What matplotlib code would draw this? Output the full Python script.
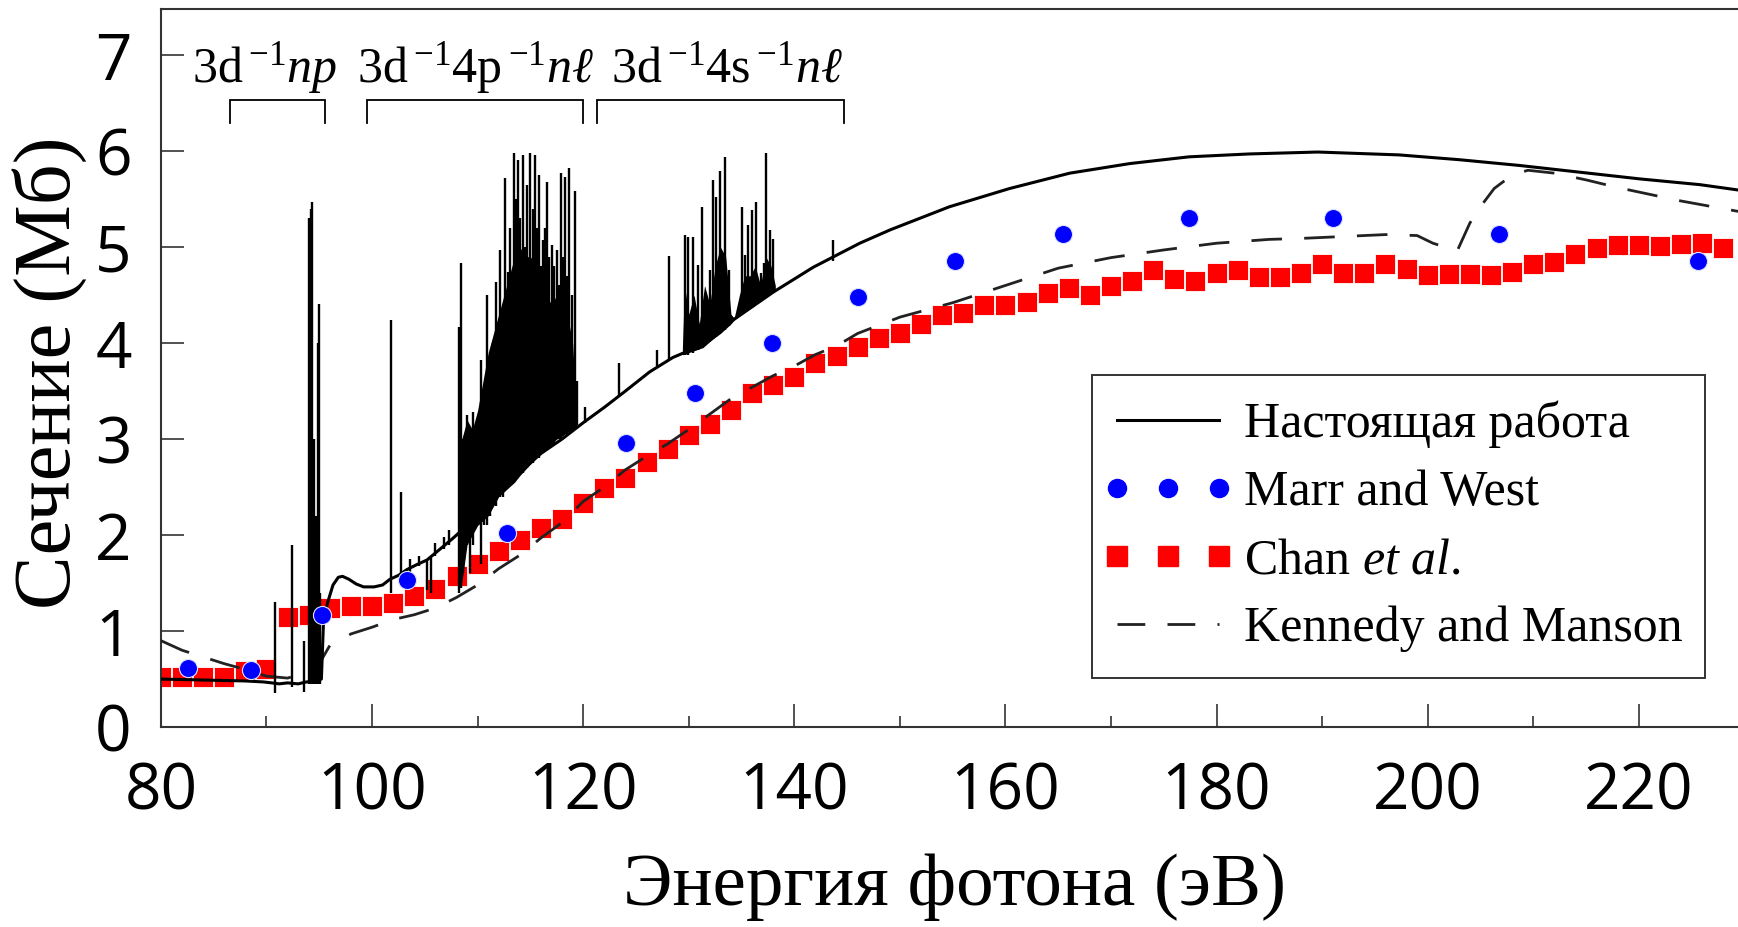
import numpy as np
import matplotlib
matplotlib.use("Agg")
import matplotlib.pyplot as plt
from matplotlib.lines import Line2D
from matplotlib.patches import Rectangle
from matplotlib.legend_handler import HandlerLine2D
from matplotlib.ticker import MultipleLocator

SERIF = 'Liberation Serif'
plt.rcParams['font.family'] = [SERIF, 'DejaVu Sans']
plt.rcParams['mathtext.fontset'] = 'custom'
plt.rcParams['mathtext.rm'] = 'Liberation Serif'
plt.rcParams['mathtext.it'] = 'Liberation Serif:italic'

# --- present work: smooth background of the calculated cross section
calc_e = [80, 84, 88, 89.7, 90.5, 91.2, 92, 93, 93.8, 94.6, 95.2, 95.4, 95.8, 96.3,
          96.8, 97.2, 97.8, 98.5, 99.2, 100.2, 101, 101.7, 102.5, 103.3, 104.2,
          105.2, 106.4, 107.7, 108.5, 110, 112, 114, 116, 118, 120, 122, 124,
          126.3, 128.5, 130, 131.3, 134.2, 138, 141.8, 146.2, 149.1, 154.7, 160.4,
          166.1, 171.8, 177.4, 183.1, 189.6, 197.3, 203, 208.7, 214.4, 220.1,
          225.8, 229.7]
calc_y = [0.50, 0.49, 0.48, 0.47, 0.46, 0.45, 0.46, 0.45, 0.47, 0.48, 0.50, 1.10,
          1.30, 1.48, 1.56, 1.57, 1.54, 1.49, 1.46, 1.46, 1.48, 1.54, 1.58, 1.64,
          1.69, 1.74, 1.85, 1.97, 2.05, 2.20, 2.45, 2.65, 2.85, 3.00, 3.17, 3.33,
          3.50, 3.70, 3.85, 3.92, 3.96, 4.24, 4.53, 4.79, 5.04, 5.18, 5.42, 5.61,
          5.77, 5.87, 5.94, 5.97, 5.99, 5.96, 5.91, 5.85, 5.78, 5.71, 5.65, 5.59]

# resonances (energy, lower end, upper end)
res_e = [90.8, 92.4, 93.6, 94.05, 94.15, 94.25, 94.35, 94.5, 94.7, 94.85, 94.95, 95.1,
         101.8, 102.7, 103.6, 104.4, 105.2, 105.6, 106.0, 106.8, 107.3,
         108.2, 108.4, 108.6, 109.0, 109.3, 109.6, 110.0, 110.3, 110.6, 110.9,
         111.2, 111.5, 111.7, 112.1, 112.4, 112.6, 112.9, 113.1, 113.4, 113.6,
         113.8, 114.0, 114.3, 114.5, 114.7, 115.0, 115.2, 115.4, 115.6, 115.8,
         116.0, 116.2, 116.4, 116.6, 116.8, 117.0, 117.2, 117.5, 117.7, 117.9,
         118.1, 118.3, 118.5, 118.7, 118.9, 119.2, 119.4, 120.2,
         123.4, 127.0, 128.1, 129.6, 129.9, 130.4, 130.9, 131.3, 132.0, 132.3,
         132.6, 133.0, 133.4, 133.8, 135.0, 135.3, 135.6, 136.0, 136.4, 136.8,
         137.1, 137.3, 137.7, 138.0, 143.7]
res_lo = [0.35, 0.42, 0.37, 0.45, 0.45, 0.45, 0.45, 0.45, 0.45, 0.45, 0.45, 0.45,
          1.40, 1.50, 1.62, 1.68, 1.43, 1.40, 1.78, 1.85, 1.90,
          1.40, 1.45, 1.60, 1.90, 1.60, 1.90, 2.10, 1.70, 2.10, 2.10,
          2.20, 2.30, 2.30, 2.40, 2.40, 2.50, 2.50, 2.55, 2.55, 2.60,
          2.60, 2.65, 2.65, 2.70, 2.70, 2.75, 2.75, 2.80, 2.80, 2.80,
          2.85, 2.85, 2.90, 2.90, 2.90, 2.95, 2.95, 3.00, 3.00, 3.00,
          3.05, 3.05, 3.05, 3.10, 3.10, 3.10, 3.15, 3.17,
          3.45, 3.76, 3.82, 3.88, 3.88, 3.90, 3.93, 3.96, 4.02, 4.04,
          4.06, 4.10, 4.14, 4.18, 4.30, 4.32, 4.34, 4.37, 4.41, 4.44,
          4.46, 4.48, 4.51, 4.53, 4.86]
res_hi = [1.30, 1.90, 0.90, 5.30, 5.20, 5.40, 5.47, 3.00, 2.20, 4.00, 4.41, 1.40,
          4.24, 2.45, 1.75, 1.78, 1.74, 1.76, 1.92, 1.98, 2.05,
          4.17, 4.83, 3.00, 3.25, 2.60, 3.28, 3.00, 3.82, 3.40, 4.50,
          3.53, 4.00, 4.64, 4.97, 4.30, 5.72, 4.74, 5.20, 5.98, 5.50,
          5.91, 5.30, 5.96, 5.00, 5.65, 5.98, 5.40, 5.96, 5.20, 5.75,
          4.80, 5.07, 5.20, 5.68, 4.90, 5.02, 4.80, 4.97, 4.60, 5.77,
          4.90, 5.73, 4.70, 5.82, 4.50, 5.58, 3.60, 3.33,
          3.79, 3.93, 4.91, 5.13, 5.11, 5.10, 4.81, 5.42, 4.76, 5.70,
          5.52, 5.79, 5.94, 4.76, 5.42, 4.92, 5.23, 5.39, 5.47, 4.73,
          4.83, 5.98, 5.18, 5.08, 5.07]

# dense parts of the resonance series (filled)
dense_e = [108.1, 108.5, 109.0, 109.5, 110.0, 110.5, 111.0, 111.5, 112.0, 112.5,
           113.0, 113.5, 114.0, 114.5, 115.0, 115.5, 116.0, 116.5, 117.0, 117.5,
           118.0, 118.5, 119.0, 119.4]
dense_lo = [1.90, 1.50, 1.90, 2.00, 2.10, 2.15, 2.20, 2.30, 2.40, 2.45, 2.50, 2.55,
            2.62, 2.68, 2.74, 2.80, 2.85, 2.90, 2.95, 3.00, 3.03, 3.07, 3.10, 3.13]
dense_hi = [2.10, 3.00, 3.20, 3.10, 3.30, 3.60, 3.90, 4.10, 4.30, 4.50, 4.70, 4.90,
            5.00, 4.90, 4.90, 4.80, 4.60, 4.50, 4.40, 4.50, 4.40, 4.30, 4.00, 3.20]
dense2_e = [129.4, 129.6, 130.0, 130.5, 131.0, 131.5, 132.0, 132.5, 133.0, 133.5,
            134.0, 134.3, 134.8, 135.3, 135.8, 136.3, 136.8, 137.3, 137.8, 138.2]
dense2_lo = [3.88, 3.88, 3.90, 3.92, 3.94, 3.98, 4.02, 4.06, 4.10, 4.15, 4.20, 4.24,
             4.28, 4.32, 4.36, 4.40, 4.44, 4.48, 4.52, 4.55]
dense2_hi = [3.95, 4.60, 4.30, 4.50, 4.20, 4.60, 4.40, 4.80, 5.00, 4.90, 4.30, 4.26,
             4.50, 4.70, 4.70, 4.80, 4.60, 4.90, 4.80, 4.60]

# Marr and West
marr_e = [82.6, 88.5, 95.3, 103.3, 112.8, 124.1, 130.6, 137.9, 146.0, 155.2,
          165.5, 177.4, 191.0, 206.8, 225.6]
marr_y = [0.62, 0.59, 1.17, 1.53, 2.02, 2.96, 3.48, 4.00, 4.48, 4.86, 5.14,
          5.30, 5.30, 5.14, 4.86]

# Chan et al.
chan_e = list(range(80, 230, 2))
chan_y = [0.52, 0.52, 0.52, 0.52, 0.58, 0.60, 1.15, 1.17, 1.24, 1.26, 1.26, 1.29,
          1.37, 1.44, 1.57, 1.70, 1.83, 1.95, 2.07, 2.17, 2.33, 2.49, 2.59, 2.76,
          2.90, 3.04, 3.16, 3.30, 3.48, 3.56, 3.65, 3.79, 3.87, 3.96, 4.05, 4.10,
          4.20, 4.29, 4.31, 4.40, 4.40, 4.43, 4.52, 4.57, 4.50, 4.59, 4.65, 4.76,
          4.67, 4.65, 4.73, 4.76, 4.69, 4.69, 4.73, 4.82, 4.73, 4.73, 4.82, 4.77,
          4.71, 4.72, 4.72, 4.71, 4.74, 4.82, 4.84, 4.93, 4.99, 5.02, 5.02, 5.01,
          5.03, 5.04, 4.99]

# Kennedy and Manson
ken_e = [80, 82, 84, 86, 88, 90, 92, 94, 95, 96, 98, 100, 102, 104, 106, 108, 110,
         112, 114, 116, 118, 120, 122, 124, 126, 128, 130, 132, 134, 136, 138, 140,
         142, 144, 146, 150, 155, 160, 165, 170, 175, 180, 185, 188, 192, 196, 199,
         200.5, 202.8, 204, 205, 206.3, 208, 209.5, 212, 215, 218, 221, 224, 227,
         229.5]
ken_y = [0.90, 0.80, 0.73, 0.66, 0.60, 0.53, 0.51, 0.58, 0.66, 0.85, 0.97, 1.04,
         1.12, 1.17, 1.24, 1.35, 1.48, 1.65, 1.79, 1.97, 2.13, 2.35, 2.50, 2.68,
         2.82, 2.95, 3.10, 3.26, 3.42, 3.54, 3.66, 3.76, 3.88, 3.97, 4.10, 4.27,
         4.42, 4.60, 4.78, 4.89, 4.97, 5.04, 5.08, 5.09, 5.11, 5.13, 5.12, 5.04,
         4.96, 5.25, 5.42, 5.61, 5.75, 5.80, 5.77, 5.70, 5.62, 5.55, 5.48, 5.42,
         5.37]

groups = [r'3d$\,^{-1}$$\mathit{np}$', r'3d$\,^{-1}$4p$\,^{-1}$$\mathit{n\ell}$',
          r'3d$\,^{-1}$4s$\,^{-1}$$\mathit{n\ell}$']
group_text_x = [82.9, 98.6, 122.6]
group_span = [(86.5, 95.5), (99.5, 120.0), (121.3, 144.7)]

fig = plt.figure(figsize=(17.38, 9.27), dpi=100)
ax = fig.add_axes([0.0926, 0.2157, 0.9074, 0.7746])

ax.plot(chan_e, chan_y, ls='none', marker='s', ms=14, color='#ff0000',
        mec='white', mew=0.6, zorder=2)
ax.plot(ken_e, ken_y, color='#222222', lw=2.0, dashes=(11, 8), zorder=3)
ax.fill_between(dense_e, dense_lo, dense_hi, color='black', lw=0, zorder=4)
ax.fill_between(dense2_e, dense2_lo, dense2_hi, color='black', lw=0, zorder=4)
ax.vlines(res_e, res_lo, res_hi, color='black', lw=1.7, zorder=4)
ax.plot(calc_e, calc_y, color='black', lw=2.2, zorder=5)
ax.plot(marr_e, marr_y, ls='none', marker='o', ms=13, color='#0000ff',
        mec='#dde4ff', mew=0.8, zorder=6)

for txt, tx, (a, b) in zip(groups, group_text_x, group_span):
    ax.text(tx, 6.72, txt, fontsize=36, family=SERIF, ha='left', va='baseline',
            zorder=7)
    ax.plot([a, a, b, b], [6.29, 6.53, 6.53, 6.29], color='black', lw=1.3,
            solid_joinstyle='miter', zorder=7)

ax.set_xlim(80, 229.4)
ax.set_ylim(0, 7.48)
ax.xaxis.set_major_locator(MultipleLocator(20))
ax.xaxis.set_minor_locator(MultipleLocator(10))
ax.yaxis.set_major_locator(MultipleLocator(1))
ax.tick_params(which='major', direction='in', length=16.5, width=1.1,
               labelsize=46, color='#222222', labelfontfamily='Open Sans')
ax.tick_params(which='minor', direction='in', length=8, width=1.1, color='#222222')
ax.tick_params(axis='x', pad=24)
ax.tick_params(axis='y', pad=21)
for s in ['left', 'bottom', 'top']:
    ax.spines[s].set_linewidth(1.5)
    ax.spines[s].set_color('#333333')
ax.spines['right'].set_visible(False)

ax.set_xlabel('Энергия фотона (эВ)', fontsize=54, family=SERIF)
ax.set_ylabel('Сечение (Мб)', fontsize=58, family=SERIF)
ax.xaxis.set_label_coords(0.503, -0.176)
ax.yaxis.set_label_coords(-0.047, 0.494)

# legend: frame drawn as its own box, entries centred inside it
ax.add_patch(Rectangle((0.5904, 0.0682), 0.3886, 0.4221, transform=ax.transAxes,
                       facecolor='white', edgecolor='#333333', lw=1.4, zorder=8))
handles = [
    Line2D([], [], color='black', lw=2.2),
    Line2D([], [], ls='none', marker='o', ms=13, color='#0000ff'),
    Line2D([], [], ls='none', marker='s', ms=14, color='#ff0000'),
    Line2D([], [], color='#222222', lw=2.0, dashes=(10, 8)),
]
labels = ['Настоящая работа', 'Marr and West', r'Chan $\mathit{et\ al}$.',
          'Kennedy and Manson']
leg = ax.legend(handles, labels, loc='center left', bbox_to_anchor=(0.6016, 0.279),
                numpoints=3, handlelength=2.34, handletextpad=0.34,
                labelspacing=0.43, borderpad=0, borderaxespad=0, frameon=False,
                prop={'family': SERIF, 'size': 36},
                handler_map={Line2D: HandlerLine2D(marker_pad=0.15)})
leg.set_zorder(9)

fig.savefig('out.png', dpi=100)
